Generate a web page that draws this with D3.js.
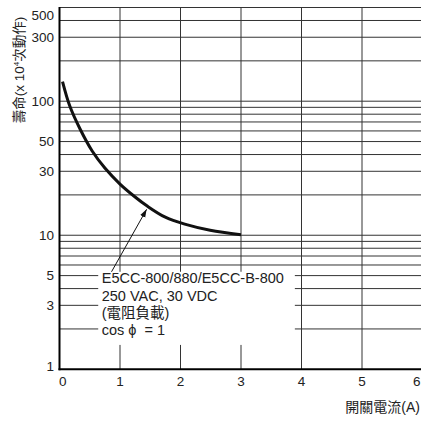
<!DOCTYPE html>
<html>
<head>
<meta charset="utf-8">
<script src="https://cdn.jsdelivr.net/npm/d3@7"></script>
<style>
  html, body { margin: 0; padding: 0; background: #fff; }
  svg { display: block; font-family: "Liberation Sans", Arial, "Noto Sans CJK TC", sans-serif; }
</style>
</head>
<body>
<div id="chart"></div>
<script>
// data
const currentA = [0.05, 0.17, 0.34, 0.54, 0.75, 1.0, 1.25, 1.45, 1.74, 2.07, 2.49, 3.0];
const lifeVals = [140, 92, 62, 42.5, 31.7, 24.1, 19.3, 16.5, 13.7, 12.1, 10.9, 10.1];

const xTicks = [0, 1, 2, 3, 4, 5, 6];
const yTicks = [1, 3, 5, 10, 30, 50, 100, 300, 500];
const yGrid = [2, 3, 4, 5, 6, 7, 8, 9, 10, 20, 30, 40, 50, 60, 70, 80, 90, 100, 200, 300, 400, 500];

const legendLines = ["E5CC-800/880/E5CC-B-800", "250 VAC, 30 VDC", "(電阻負載)", "cos ϕ  = 1"];

const W = 421, H = 421;

const svg = d3.select("#chart")
  .append("svg")
  .attr("width", W)
  .attr("height", H);

// scales
const x = d3.scaleLinear().domain([0, 6]).range([59.5, 422.5]);
const y = d3.scaleLog().domain([1, 500]).range([369.3, 7.5]);

const gridColor = "#333";

// vertical grid
svg.append("g")
  .selectAll("line")
  .data(xTicks.slice(1))
  .join("line")
  .attr("x1", d => x(d)).attr("x2", d => x(d))
  .attr("y1", y(500)).attr("y2", y(1))
  .attr("stroke", gridColor)
  .attr("stroke-width", 1);

// horizontal grid
svg.append("g")
  .selectAll("line")
  .data(yGrid)
  .join("line")
  .attr("x1", x(0)).attr("x2", W)
  .attr("y1", d => y(d)).attr("y2", d => y(d))
  .attr("stroke", gridColor)
  .attr("stroke-width", 1);

// white annotation box covering the grid
const bx0 = x(0.64), bx1 = x(3.89), by0 = y(5.34), by1 = y(1.52);
svg.append("rect")
  .attr("x", bx0).attr("y", by0)
  .attr("width", bx1 - bx0).attr("height", by1 - by0)
  .attr("fill", "#fff");

// axes lines
svg.append("line")
  .attr("x1", x(0)).attr("x2", x(0))
  .attr("y1", y(500) - 0.5).attr("y2", y(1) + 1)
  .attr("stroke", "#000").attr("stroke-width", 2);
svg.append("line")
  .attr("x1", x(0) - 1).attr("x2", W)
  .attr("y1", y(1)).attr("y2", y(1))
  .attr("stroke", "#000").attr("stroke-width", 2);

// tick labels
svg.append("g")
  .selectAll("text")
  .data(xTicks)
  .join("text")
  .attr("x", d => d === 0 ? x(d) - 0.5 : d === 6 ? W - 0.5 : x(d))
  .attr("y", 386)
  .attr("text-anchor", d => d === 0 ? "start" : d === 6 ? "end" : "middle")
  .attr("font-size", 13.5)
  .attr("fill", "#222")
  .text(d => d);

svg.append("g")
  .selectAll("text")
  .data(yTicks)
  .join("text")
  .attr("x", 54)
  .attr("y", d => Math.min(Math.max(y(d), 15), 366))
  .attr("dy", "0.36em")
  .attr("text-anchor", "end")
  .attr("font-size", 13.5)
  .attr("fill", "#222")
  .text(d => d);

// axis titles
const yTitle = svg.append("text")
  .attr("transform", "translate(24,70) rotate(-90)")
  .attr("text-anchor", "middle")
  .attr("font-size", 13.5)
  .attr("fill", "#222");
yTitle.append("tspan").text("壽命(x 10");
yTitle.append("tspan").attr("font-size", 8).attr("dy", -5).text("4");
yTitle.append("tspan").attr("dy", 5).text("次動作)");

svg.append("text")
  .attr("x", 420)
  .attr("y", 412)
  .attr("text-anchor", "end")
  .attr("font-size", 14)
  .attr("fill", "#222")
  .text("開關電流(A)");

// life curve
const pts = currentA.map((c, i) => [c, lifeVals[i]]);
const line = d3.line()
  .x(d => x(d[0]))
  .y(d => y(d[1]))
  .curve(d3.curveCatmullRom.alpha(0.5));

svg.append("path")
  .datum(pts)
  .attr("d", line)
  .attr("fill", "none")
  .attr("stroke", "#111")
  .attr("stroke-width", 3);

// arrow
svg.append("defs").append("marker")
  .attr("id", "arr")
  .attr("viewBox", "0 0 10 10")
  .attr("refX", 10).attr("refY", 5)
  .attr("markerWidth", 8).attr("markerHeight", 8)
  .attr("markerUnits", "userSpaceOnUse")
  .attr("orient", "auto")
  .append("path")
  .attr("d", "M0,1.5L10,5L0,8.5Z")
  .attr("fill", "#111");

svg.append("line")
  .attr("x1", x(0.86)).attr("y1", y(5.34))
  .attr("x2", x(1.44)).attr("y2", y(15.6))
  .attr("stroke", "#111")
  .attr("stroke-width", 1)
  .attr("marker-end", "url(#arr)");

// legend text
svg.append("g")
  .selectAll("text")
  .data(legendLines)
  .join("text")
  .attr("x", bx0 + 3.5)
  .attr("y", (d, i) => by0 + 11.5 + i * 17.3)
  .attr("font-size", 14.5)
  .attr("fill", "#222")
  .style("white-space", "pre")
  .text(d => d);
</script>
</body>
</html>
